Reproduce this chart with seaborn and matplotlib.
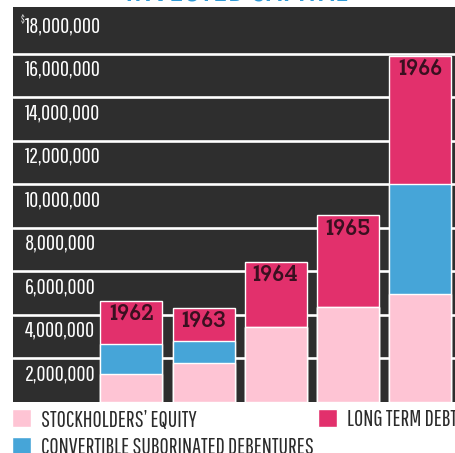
import matplotlib
matplotlib.use("Agg")
import matplotlib.pyplot as plt
import matplotlib.transforms as mtransforms
from matplotlib.patches import Patch
import seaborn as sns
import pandas as pd

years = ["1962", "1963", "1964", "1965", "1966"]
stockholders_equity = [1.30, 1.81, 3.43, 4.34, 4.98]       # millions of dollars
convertible_debentures = [1.37, 1.01, 0.00, 0.00, 5.02]
long_term_debt = [1.98, 1.49, 2.99, 4.23, 5.90]
tick_values = [2, 4, 6, 8, 10, 12, 14, 16, 18]
tick_labels = ["2,000,000", "4,000,000", "6,000,000", "8,000,000", "10,000,000",
               "12,000,000", "14,000,000", "16,000,000", "18,000,000"]

PINK = "#fec4d4"
BLUE = "#46a5d8"
MAGENTA = "#e2306c"
BG = "#2e2e2e"
NARROW = ["Pathway Gothic One", "Fira Sans Extra Condensed", "DejaVu Sans"]
SLAB = ["Rokkitt", "Zilla Slab", "DejaVu Serif"]

sns.set_theme(style="white")
plt.rcParams["font.family"] = NARROW

df = pd.DataFrame({
    "year": years,
    "equity": stockholders_equity,
    "debentures": convertible_debentures,
    "debt": long_term_debt,
})
df["lower"] = df["equity"]
df["middle"] = df["equity"] + df["debentures"]
df["total"] = df["middle"] + df["debt"]

fig = plt.figure(figsize=(4.55, 4.53), dpi=100)
ax = fig.add_axes([13 / 455, 51.1 / 453, 1 - 13 / 455, 0.8715])
ax.set_facecolor(BG)

# horizontal rules at every two million, behind the bars
for v in tick_values[:-1]:
    ax.axhline(v, color="white", lw=1.9, zorder=0.5)

# stacked bars drawn as overlapping cumulative totals
sns.barplot(data=df, x="year", y="total", color=MAGENTA, width=0.86,
            saturation=1, ax=ax, zorder=2)
sns.barplot(data=df, x="year", y="middle", color=BLUE, width=0.86,
            saturation=1, ax=ax, zorder=3)
sns.barplot(data=df, x="year", y="lower", color=PINK, width=0.86,
            saturation=1, ax=ax, zorder=4)

for i, (yr, tot) in enumerate(zip(years, df["total"])):
    ax.annotate(yr, (i, tot), xytext=(0, -9.5), textcoords="offset points",
                ha="center", va="center", fontsize=18.5, family=SLAB,
                fontweight="bold", color="#3a1020", zorder=6)

ax.set_xlim(-1.643, 4.487)
ax.set_ylim(0, 18.15)
ax.set_xticks([])
ax.set_yticks([])
ax.set_xlabel("")
ax.set_ylabel("")
for s in ax.spines.values():
    s.set_visible(False)

# value labels sit inside the band below each rule
trans = mtransforms.blended_transform_factory(ax.transAxes, ax.transData)
for v, lab in zip(tick_values, tick_labels):
    ax.text(12 / 442, v - 0.73, lab, transform=trans, ha="left", va="center",
            color="white", fontsize=16, zorder=7)
ax.text(8 / 442, 17.55, "$", transform=trans, ha="left", va="center",
        color="white", fontsize=7, zorder=7)

# partially visible heading above the chart
fig.text(0.52, 451 / 453, "INVESTED CAPITAL", ha="center", va="baseline",
         color="#2f9ad6", fontsize=30, fontweight="bold")

handles = [Patch(facecolor=PINK), Patch(facecolor=BLUE), Patch(facecolor=MAGENTA)]
labels = ["STOCKHOLDERS\u2019 EQUITY", "CONVERTIBLE SUBORINATED DEBENTURES",
          "LONG TERM DEBT"]
fig.legend(handles, labels, ncol=2, loc="upper left",
           bbox_to_anchor=(12 / 455, 1 - 409 / 453), frameon=False,
           handlelength=0.85, handleheight=0.85, handletextpad=0.45,
           columnspacing=0.15, labelspacing=0.3, borderaxespad=0,
           borderpad=0, prop={"size": 16.3}, labelcolor="#2b2b2b")

fig.savefig("out.png", dpi=100)
